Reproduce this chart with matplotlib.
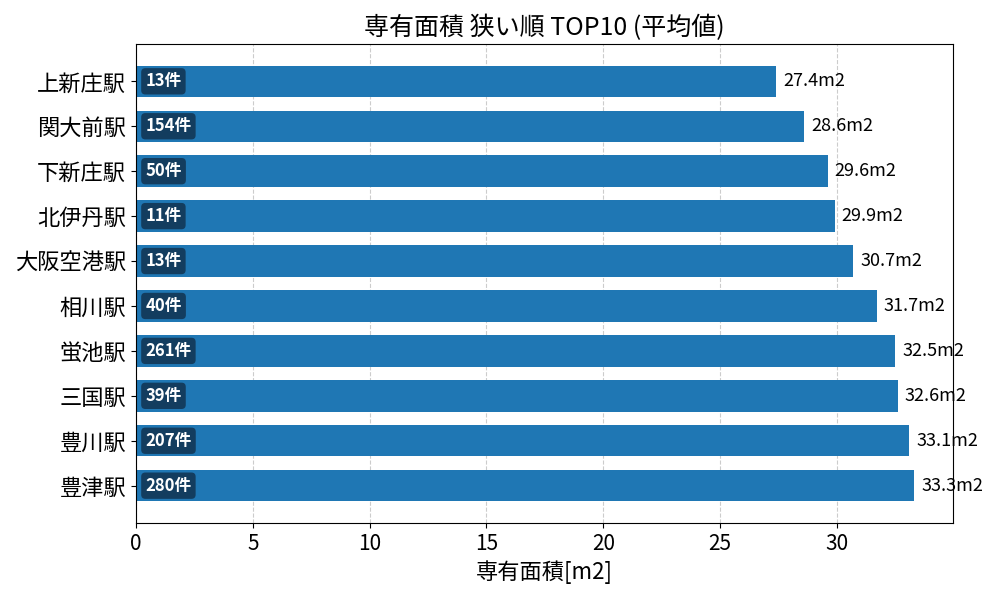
import matplotlib
matplotlib.use("Agg")
import matplotlib.pyplot as plt

plt.rcParams['font.family'] = ['Noto Sans CJK JP', 'DejaVu Sans']

stations = ['上新庄駅', '関大前駅', '下新庄駅', '北伊丹駅', '大阪空港駅',
            '相川駅', '蛍池駅', '三国駅', '豊川駅', '豊津駅']
areas = [27.4, 28.6, 29.6, 29.9, 30.7, 31.7, 32.5, 32.6, 33.1, 33.3]
counts = [13, 154, 50, 11, 13, 40, 261, 39, 207, 280]

fig, ax = plt.subplots(figsize=(10, 6), dpi=100)
fig.subplots_adjust(left=0.136, right=0.953, top=0.927, bottom=0.128)

ypos = list(range(len(stations)))
bars = ax.barh(ypos, areas, height=0.7, color='#1f77b4', zorder=2)
ax.invert_yaxis()
ax.set_yticks(ypos)
ax.set_yticklabels(stations, fontsize=16)
ax.tick_params(axis='x', labelsize=15)

for y, a, c in zip(ypos, areas, counts):
    ax.text(a + 0.3, y, f'{a:.1f}m2', va='center', ha='left', fontsize=13)
    ax.text(0.4, y, f'{c}件', va='center', ha='left', fontsize=12,
            color='white', fontweight='bold',
            bbox=dict(boxstyle='round,pad=0.25', facecolor='#133d5f',
                      edgecolor='none'))

ax.grid(axis='x', linestyle='--', color='#cccccc', zorder=0)
ax.set_axisbelow(True)
ax.set_xlabel('専有面積[m2]', fontsize=16)
ax.set_title('専有面積 狭い順 TOP10 (平均値)', fontsize=18)

fig.savefig('out.png')
